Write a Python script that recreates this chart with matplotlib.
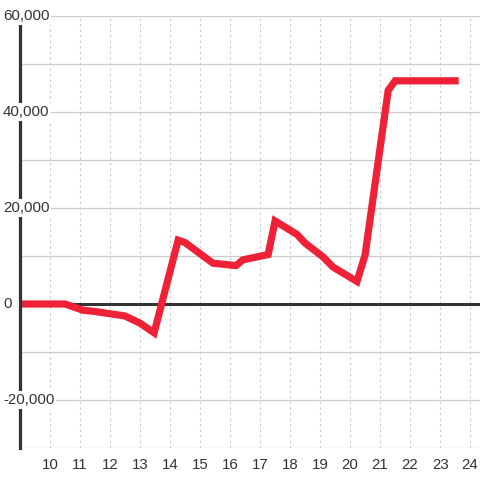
import matplotlib
matplotlib.use('Agg')
import matplotlib.pyplot as plt
import matplotlib.transforms as mtransforms

plt.rcParams['font.family'] = ['Liberation Sans', 'DejaVu Sans']

# hour of day vs. cumulative value
hours = [9.0, 10.5, 11.1, 11.43, 12.5, 13.0, 13.47, 14.27, 14.5, 15.43, 16.2,
         16.43, 17.27, 17.5, 18.23, 18.5, 19.1, 19.43, 20.23, 20.5, 21.27, 21.5, 23.5]
values = [0, 0, -1300, -1500, -2500, -4000, -6000, 13300, 12800, 8500, 8000,
          9200, 10300, 17300, 14500, 12700, 9800, 7700, 4700, 10200, 44500, 46500, 46500]
x_ticks = list(range(10, 25))
y_labels = [-20000, 0, 20000, 40000, 60000]
y_grid = list(range(-30000, 60001, 10000))

fig = plt.figure(figsize=(4.8, 4.8), dpi=100)
ax = fig.add_axes([20 / 480, 32 / 480, 460 / 480, 432 / 480])
ax.set_xlim(9, 24.33)
ax.set_ylim(-30000, 60000)

for g in y_grid:
    ax.axhline(g, color='#cccccc', lw=0.9, zorder=1)
for t in x_ticks:
    ax.axvline(t, color='#c8c8c8', lw=0.8, ls=(0, (2, 3)), zorder=1)
ax.axhline(0, color='#333333', lw=2.2, zorder=2)

ax.plot(hours, values, color='#ee2137', lw=5.2, zorder=3, solid_joinstyle='miter')

for s in ['top', 'right', 'bottom']:
    ax.spines[s].set_visible(False)
ax.spines['left'].set_color('#333333')
ax.spines['left'].set_linewidth(2.3)
ax.spines['left'].set_zorder(4)

ax.set_yticks([])
ax.set_xticks(x_ticks)
ax.set_xticklabels([str(t) for t in x_ticks], fontsize=10.8, color='#333333')
ax.tick_params(axis='x', length=0, pad=7)

trans = mtransforms.blended_transform_factory(fig.transFigure, ax.transData)
for v in y_labels:
    ax.text(3 / 480, v, '{:,}'.format(v), transform=trans, ha='left', va='center',
            fontsize=10.8, color='#333333', zorder=5, clip_on=False,
            bbox=dict(facecolor='white', edgecolor='none', pad=1.2))

fig.savefig('out.png', dpi=100, facecolor='white')
